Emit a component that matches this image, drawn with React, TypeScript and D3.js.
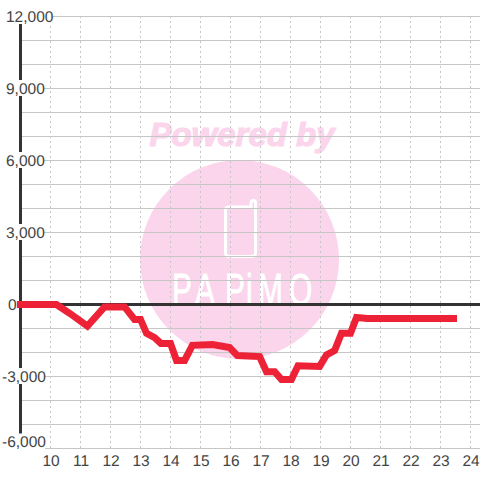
import React from "react";
import * as d3 from "d3";

const hours = [8.88,10.2,10.65,11.23,11.8,12.47,12.8,13.0,13.2,13.47,13.68,14.0,14.2,14.47,14.73,15.4,15.97,16.23,16.97,17.2,17.47,17.7,18.03,18.25,18.97,19.2,19.47,19.7,20.0,20.2,20.57,23.55];
const values = [0,0,-375,-900,-100,-100,-620,-620,-1200,-1380,-1620,-1620,-2330,-2330,-1700,-1670,-1790,-2130,-2170,-2800,-2800,-3130,-3130,-2550,-2580,-2100,-1920,-1200,-1200,-540,-580,-580];
const yTicks = [12000,9000,6000,3000,0,-3000,-6000];
const yGrid = d3.range(-6000, 12001, 1000);
const xTicks = d3.range(10, 25);
const yLabels = ["12,000","9,000","6,000","3,000","0","-3,000","-6,000"];

const x = d3.scaleLinear().domain([10, 24]).range([50.5, 470.5]);
const y = d3.scaleLinear().domain([-6000, 12000]).range([448, 16]);
const FONT = "'Liberation Sans', Arial, sans-serif";
const PINK = "#fbd5ec";
const LOGO_SX = 0.68;
const logoX = [172, 195, 225, 246, 258, 289].map((v) => (v / LOGO_SX).toFixed(1)).join(" ");

export default function App() {
  const line = d3.line<number>().x((_, i) => x(hours[i])).y((d) => y(d) + 0.5);
  return (
    <svg width={480} height={480} style={{ position: "fixed", left: 0, top: 0, background: "#fff" }}>
      <g>
        <text x={242} y={146} textAnchor="middle" fontFamily={FONT} fontWeight="bold" fontStyle="italic" fontSize={33} fill={PINK} stroke={PINK} strokeWidth={1.2}>Powered by</text>
        <circle cx={239.5} cy={259.5} r={99.5} fill={PINK} />
        <path d="M231 207 H251 V203 Q251 200.5 253.5 200.5 Q255.5 200.5 255.5 203 V253 Q255.5 256.5 252 256.5 H229 Q225.5 256.5 225.5 253 V210 Q225.5 207 229 207 H231" fill="none" stroke="#fff" strokeWidth={3} />
        <text transform={`translate(0,305) scale(${LOGO_SX},1)`} x={logoX} y={0} fontFamily={FONT} fontSize={44} fill="#fff" stroke="#fff" strokeWidth={0.8}>PAPiMO</text>
      </g>
      {yGrid.map((v) => (
        <line key={v} x1={20} x2={480} y1={y(v) + 0.5} y2={y(v) + 0.5} stroke="#c6c6c6" strokeWidth={1} />
      ))}
      {xTicks.map((h) => (
        <line key={h} x1={x(h)} x2={x(h)} y1={16} y2={448} stroke="#c6c6c6" strokeWidth={1} strokeDasharray="2 3" />
      ))}
      <line x1={20.5} x2={20.5} y1={16} y2={448} stroke="#333" strokeWidth={3} />
      <line x1={20} x2={480} y1={y(0) + 0.5} y2={y(0) + 0.5} stroke="#333" strokeWidth={3} />
      {yTicks.map((v, i) => {
        const lab = yLabels[i];
        const neg = v < 0;
        const w = v === 12000 ? 46 : v === 0 ? 9 : neg ? 43 : 38;
        const lx = neg ? 2 : v === 0 ? 8 : 6;
        const cy = v === -6000 ? 441.5 : v === 12000 ? 16 : y(v);
        return (
          <g key={v}>
            <rect x={lx} y={cy - 8} width={w} height={16} fill="#fff" />
            <text x={lx} y={cy + 5.5} fontFamily={FONT} fontSize={15.5} textRendering="geometricPrecision" fill="#444">{lab}</text>
          </g>
        );
      })}
      <path d={line(values) ?? ""} fill="none" stroke="#ee2236" strokeWidth={7} strokeLinejoin="miter" />
      {xTicks.map((h) => (
        <text key={h} x={x(h) + 0.5} y={466} textAnchor="middle" fontFamily={FONT} fontSize={15.5} textRendering="geometricPrecision" fill="#444">{h}</text>
      ))}
    </svg>
  );
}
